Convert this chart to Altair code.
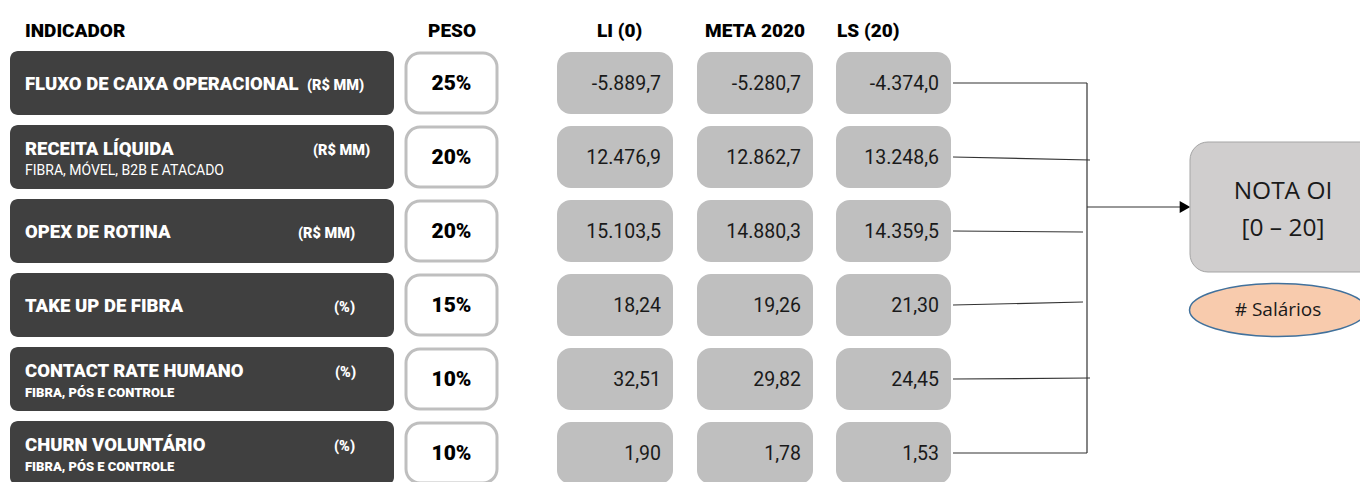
import altair as alt
import pandas as pd

# ---------------- data ----------------
HEADERS = ["INDICADOR", "PESO", "LI (0)", "META 2020", "LS (20)"]
INDICATORS = ["FLUXO DE CAIXA OPERACIONAL", "RECEITA LÍQUIDA", "OPEX DE ROTINA",
              "TAKE UP DE FIBRA", "CONTACT RATE HUMANO", "CHURN VOLUNTÁRIO"]
SUBTITLES = ["", "FIBRA, MÓVEL, B2B E ATACADO", "", "",
             "FIBRA, PÓS E CONTROLE", "FIBRA, PÓS E CONTROLE"]
UNITS = ["(R$ MM)", "(R$ MM)", "(R$ MM)", "(%)", "(%)", "(%)"]
PESOS = ["25%", "20%", "20%", "15%", "10%", "10%"]
LI_VALUES = ["-5.889,7", "12.476,9", "15.103,5", "18,24", "32,51", "1,90"]
META_VALUES = ["-5.280,7", "12.862,7", "14.880,3", "19,26", "29,82", "1,78"]
LS_VALUES = ["-4.374,0", "13.248,6", "14.359,5", "21,30", "24,45", "1,53"]
NOTA_LINES = ["NOTA OI", "[0 – 20]"]
SALARIOS = "# Salários"

# ---------------- layout / style ----------------
W, H = 1352, 474
ROW0, PITCH = 83, 74
COND = "Roboto"
HEAVY = 900
DARK = "#404040"
GREY = "#BFBFBF"
UNIT_RIGHT = [364, 370, 355, 355, 356, 355]
SUB_BOLD = [False, False, False, False, True, True]
HEADER_X = [25, 428, 597, 705, 837]
VAL_COLS = [(557, 673), (697, 813), (836, 951)]
LINE_END = [(1087, 0), (1090, 3), (1083, 1), (1083, -3), (1090, -1), (1087, 0)]
VX = 1087
ARROW_Y = 207
NOTA_BOX = (1190, 1385, 142, 272)
ELL = (1278, 310)

xs = alt.Scale(domain=[8, 8 + W], nice=False, zero=False)
ys = alt.Scale(domain=[8, 8 + H], reverse=True, nice=False, zero=False)


def X(f):
    return alt.X(f, type="quantitative", scale=xs, axis=None)


def Y(f):
    return alt.Y(f, type="quantitative", scale=ys, axis=None)


n = len(INDICATORS)
centers = [ROW0 + PITCH * i for i in range(n)]
two_line = [s != "" for s in SUBTITLES]

rows = pd.DataFrame({
    "i": range(n),
    "c": centers,
    "title": INDICATORS,
    "sub": SUBTITLES,
    "unit": UNITS,
    "peso": PESOS,
})
rows["title_y"] = [c + (-9 if t else 0) + 7 for c, t in zip(centers, two_line)]
rows["sub_y"] = [c + 13 + 5 for c in centers]
rows["unit_x"] = UNIT_RIGHT

# dark indicator boxes
dark = pd.DataFrame({"x0": 10, "x1": 394, "y0": [c - 32 for c in centers], "y1": [c + 32 for c in centers]})
dark_l = alt.Chart(dark).mark_rect(cornerRadius=8, color=DARK).encode(
    x=X("x0"), x2="x1", y=Y("y0"), y2="y1")

# peso boxes
peso_b = pd.DataFrame({"x0": 406, "x1": 497, "y0": [c - 30 for c in centers], "y1": [c + 30 for c in centers]})
peso_l = alt.Chart(peso_b).mark_rect(cornerRadius=14, fill="white", stroke=GREY, strokeWidth=3).encode(
    x=X("x0"), x2="x1", y=Y("y0"), y2="y1")

# value boxes + value text
vals = []
for (x0, x1), col in zip(VAL_COLS, [LI_VALUES, META_VALUES, LS_VALUES]):
    for c, v in zip(centers, col):
        vals.append({"x0": x0, "x1": x1, "y0": c - 31, "y1": c + 31, "tx": x1 - 12, "ty": c + 7, "v": v})
vals = pd.DataFrame(vals)
val_box = alt.Chart(vals).mark_rect(cornerRadius=14, color=GREY).encode(
    x=X("x0"), x2="x1", y=Y("y0"), y2="y1")
val_txt = alt.Chart(vals).mark_text(font="Roboto", fontSize=19.5, align="right", baseline="alphabetic",
                                    color="#1a1a1a").encode(x=X("tx"), y=Y("ty"), text="v:N")

# titles
rows["tx"] = 25
title_l = alt.Chart(rows).mark_text(font=COND, fontSize=18.5, fontWeight=HEAVY, align="left",
                                    baseline="alphabetic", color="white").encode(
    x=X("tx"), y=Y("title_y"), text="title:N")
unit_l = alt.Chart(rows).mark_text(font=COND, fontSize=14.5, fontWeight=HEAVY, align="right",
                                   baseline="alphabetic", color="white").encode(
    x=X("unit_x"), y=Y("title_y"), text="unit:N")
subs = rows[rows["sub"] != ""].copy()
subs["bold"] = [SUB_BOLD[i] for i in subs["i"]]
sub_n = alt.Chart(subs[~subs["bold"]]).mark_text(font=COND, fontSize=14, align="left",
                                                 baseline="alphabetic", color="white").encode(
    x=X("tx"), y=Y("sub_y"), text="sub:N")
sub_b = alt.Chart(subs[subs["bold"]]).mark_text(font=COND, fontSize=13, fontWeight=HEAVY, align="left",
                                                baseline="alphabetic", color="white").encode(
    x=X("tx"), y=Y("sub_y"), text="sub:N")

rows["px"] = 451.5
rows["py"] = [c + 7 for c in centers]
peso_t = alt.Chart(rows).mark_text(font=COND, fontSize=21, fontWeight=HEAVY, align="center",
                                   baseline="alphabetic", color="black").encode(
    x=X("px"), y=Y("py"), text="peso:N")

# headers
hdr = pd.DataFrame({"h": HEADERS, "x": HEADER_X, "y": 37})
hdr_l = alt.Chart(hdr).mark_text(font=COND, fontSize=19, fontWeight=HEAVY, align="left",
                                 baseline="alphabetic", color="black").encode(
    x=X("x"), y=Y("y"), text="h:N")

# connector lines
conn = pd.DataFrame({
    "x0": [VAL_COLS[2][1] + 2] * n,
    "x1": [e[0] for e in LINE_END],
    "y0": centers,
    "y1": [c + e[1] for c, e in zip(centers, LINE_END)],
})
conn = pd.concat([conn, pd.DataFrame({"x0": [VX, VX], "x1": [VX, 1180],
                                      "y0": [centers[0], ARROW_Y], "y1": [centers[-1], ARROW_Y]})])
conn_l = alt.Chart(conn).mark_rule(color="#333333", strokeWidth=1.2).encode(
    x=X("x0"), x2="x1", y=Y("y0"), y2="y1")
head = pd.DataFrame({"x": [1185], "y": [ARROW_Y]})
head_l = alt.Chart(head).mark_point(shape="triangle-right", size=150, filled=True, color="black",
                                    opacity=1).encode(x=X("x"), y=Y("y"))

# nota box
nota = pd.DataFrame({"x0": [NOTA_BOX[0]], "x1": [NOTA_BOX[1]], "y0": [NOTA_BOX[2]], "y1": [NOTA_BOX[3]]})
nota_l = alt.Chart(nota).mark_rect(cornerRadius=18, fill="#D0CECE", stroke="#A5A5A5", strokeWidth=1).encode(
    x=X("x0"), x2="x1", y=Y("y0"), y2="y1")
nota_t = pd.DataFrame({"t": NOTA_LINES, "x": [1283, 1283], "y": [199, 236]})
nota_tl = alt.Chart(nota_t).mark_text(font="Open Sans", fontSize=24.5, align="center", baseline="alphabetic",
                                      color="#1a1a1a").encode(x=X("x"), y=Y("y"), text="t:N")

# salarios ellipse
ELLIPSE = ("M -1 0 C -1 -0.1657 -0.5523 -0.3 0 -0.3 C 0.5523 -0.3 1 -0.1657 1 0 "
           "C 1 0.1657 0.5523 0.3 0 0.3 C -0.5523 0.3 -1 0.1657 -1 0 Z")
ell = pd.DataFrame({"x": [ELL[0]], "y": [ELL[1]], "t": [SALARIOS], "ty": [ELL[1] + 6]})
ell_l = alt.Chart(ell).mark_point(shape=ELLIPSE, size=177 * 177, filled=True, fill="#F8CBAD",
                                  stroke="#41719C", strokeWidth=1.5, opacity=1, fillOpacity=1).encode(
    x=X("x"), y=Y("y"))
ell_t = alt.Chart(ell).mark_text(font="Open Sans", fontSize=19, align="center", baseline="alphabetic",
                                 color="#1a1a1a").encode(x=X("x"), y=Y("ty"), text="t:N")

chart = alt.layer(
    dark_l, peso_l, val_box, conn_l, head_l, nota_l, ell_l,
    title_l, unit_l, sub_n, sub_b, peso_t, val_txt, hdr_l, nota_tl, ell_t,
).properties(width=W, height=H, padding=0, autosize=alt.AutoSizeParams(type="none"),
             background="white").configure_view(stroke=None)

chart.save("out.html", embed_options={"renderer": "svg", "actions": False})
